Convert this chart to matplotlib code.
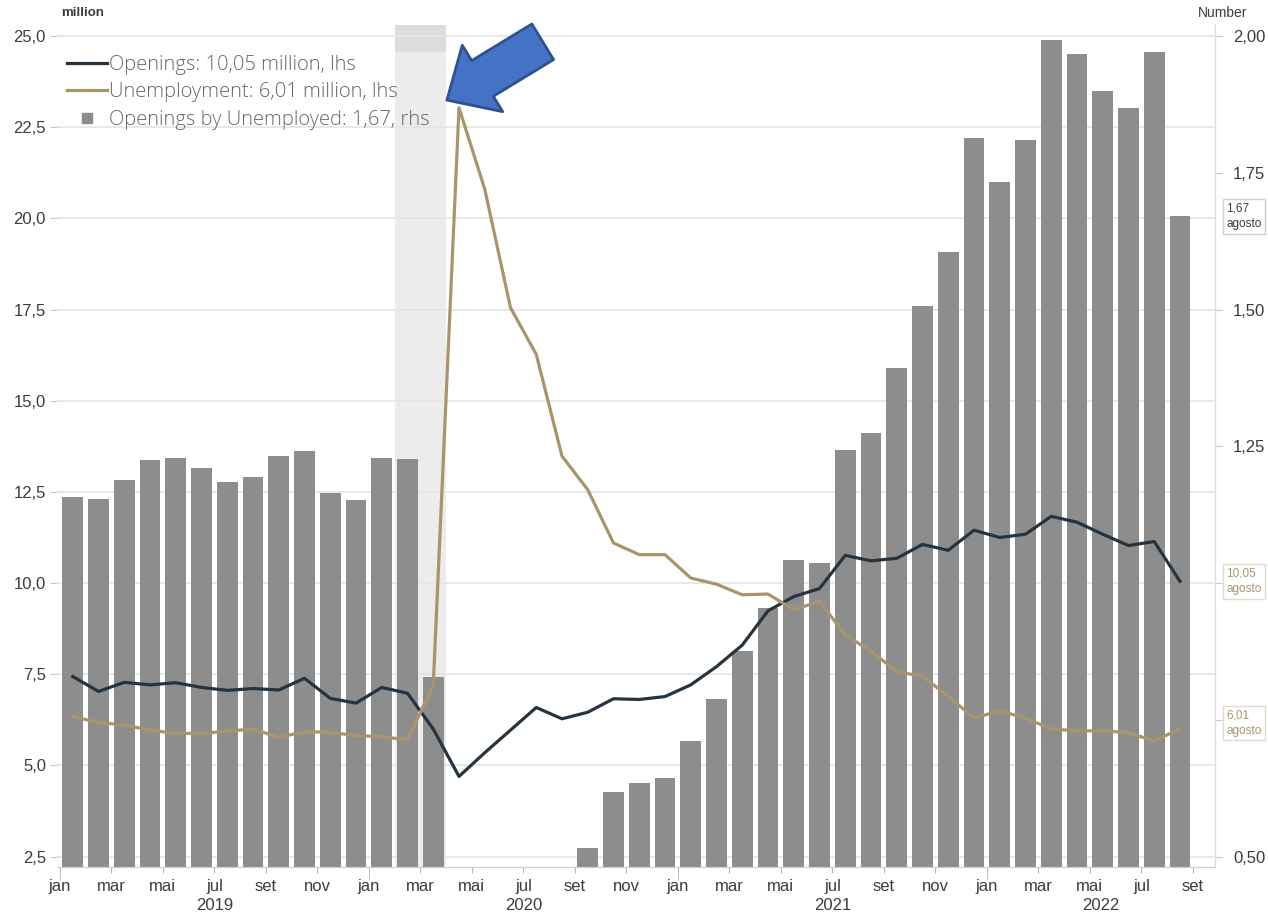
import numpy as np
import pandas as pd
import matplotlib
matplotlib.use('Agg')
import matplotlib.pyplot as plt
import matplotlib.transforms as mtransforms
from matplotlib.lines import Line2D

plt.rcParams['font.family'] = ['Liberation Sans Narrow', 'Liberation Sans', 'DejaVu Sans']

# dados mensais jan/2019 - ago/2022
months = pd.period_range('2019-01', '2022-08', freq='M')
month_names = ['jan', 'fev', 'mar', 'abr', 'mai', 'jun', 'jul', 'ago', 'set', 'out', 'nov', 'dez']

# vagas abertas (milhões, eixo esquerdo)
openings = [7.44, 7.03, 7.28, 7.21, 7.27, 7.14, 7.06, 7.11, 7.07, 7.39, 6.84, 6.71,
            7.14, 6.98, 6.00, 4.70, 5.35, 5.97, 6.59, 6.28, 6.46, 6.83, 6.81, 6.89,
            7.21, 7.71, 8.30, 9.24, 9.63, 9.85, 10.76, 10.61, 10.68, 11.06, 10.90, 11.45,
            11.25, 11.34, 11.83, 11.67, 11.34, 11.03, 11.14, 10.05]

# desempregados (milhões, eixo esquerdo)
unemployment = [6.34, 6.18, 6.11, 5.97, 5.88, 5.88, 5.94, 6.00, 5.77, 5.93, 5.91, 5.82,
                5.79, 5.70, 7.20, 23.03, 20.80, 17.55, 16.27, 13.48, 12.56, 11.10, 10.78, 10.78,
                10.14, 9.97, 9.68, 9.70, 9.27, 9.50, 8.58, 8.13, 7.58, 7.44, 6.90, 6.30,
                6.50, 6.30, 6.00, 5.95, 5.95, 5.90, 5.67, 6.01]

# vagas por desempregado (eixo direito)
ratio = [1.157, 1.153, 1.188, 1.225, 1.229, 1.210, 1.184, 1.193, 1.232, 1.241, 1.164, 1.151,
         1.229, 1.226, 0.829, 0.204, 0.257, 0.340, 0.405, 0.466, 0.516, 0.619, 0.635, 0.643,
         0.711, 0.788, 0.876, 0.954, 1.043, 1.037, 1.244, 1.275, 1.393, 1.506, 1.606, 1.813,
         1.733, 1.810, 1.993, 1.967, 1.900, 1.868, 1.970, 1.670]

left_ticks = [2.5, 5.0, 7.5, 10.0, 12.5, 15.0, 17.5, 20.0, 22.5, 25.0]
right_ticks = [0.5, 0.75, 1.0, 1.25, 1.5, 1.75, 2.0]
right_hidden = [0.75, 1.0]
recession = ['2020-02', '2020-03']

NAVY = '#263440'
TAN = '#a8956b'
BAR = '#8d8d8e'
GRID = '#e6e6e6'
TXT = '#3c3c3c'

x = np.arange(len(months))
month_idx = {str(m): i for i, m in enumerate(months)}

fig = plt.figure(figsize=(12.68, 9.15), dpi=100)
ax = fig.add_axes([0.045, 0.0528, 0.9132, 0.9199])
ax2 = ax.twinx()
ax.set_zorder(2)
ax2.set_zorder(1)
ax.patch.set_visible(False)

ax.set_xlim(-0.61, 44.36)
ax.set_ylim(2.226, 25.3)
ax2.set_ylim(0.4817, 2.02)

# recessão
r0 = month_idx[recession[0]] - 0.5
r1 = month_idx[recession[1]] + 0.5
ax2.axvspan(r0, r1, color='#ececec', zorder=0, lw=0)
ax2.axvspan(r0, r1, ymin=0.968, ymax=1.0, color='#dcdcdc', zorder=0.1, lw=0)

# grade horizontal do eixo esquerdo, desenhada atras das barras
blend = mtransforms.blended_transform_factory(ax2.transAxes, ax.transData)
for v in left_ticks:
    ax2.plot([0, 1], [v, v], transform=blend, color=GRID, lw=1.3, zorder=0.5)

ax2.bar(x, ratio, width=0.80, color=BAR, zorder=2)

l1, = ax.plot(x, openings, color=NAVY, lw=2.3, solid_joinstyle='round')
l2, = ax.plot(x, unemployment, color=TAN, lw=2.3, solid_joinstyle='round')

# eixos
for a in (ax, ax2):
    for s in ('top', 'left'):
        a.spines[s].set_visible(False)
    a.spines['right'].set_color('#dadada')
    a.spines['bottom'].set_color('#d0d0d0')

ax.set_yticks(left_ticks)
ax.set_yticklabels([('%.1f' % v).replace('.', ',') for v in left_ticks])
ax.tick_params(axis='y', length=5, color='#c8c8c8', labelsize=12, labelcolor=TXT, pad=3)

ax2.set_yticks(right_ticks)
ax2.set_yticklabels(['' if v in right_hidden else ('%.2f' % v).replace('.', ',')
                     for v in right_ticks])
ax2.tick_params(axis='y', length=5, color='#c8c8c8', labelsize=12, labelcolor=TXT, pad=8)

tick_pos = [i - 0.5 for i in range(0, len(months) + 1, 2)]
tick_lab = [month_names[i % 12] for i in range(0, len(months) + 1, 2)]
ax.set_xticks(tick_pos)
ax.set_xticklabels(tick_lab)
ax.set_xticks([i - 0.5 for i in range(0, len(months) + 1, 12)], minor=True)
ax.xaxis.remove_overlapping_locs = False
ax.tick_params(axis='x', which='major', length=4, color='#b8b8b8', labelsize=12,
               labelcolor=TXT, pad=5)
ax.tick_params(axis='x', which='minor', length=9, color='#b8b8b8')

# anos centralizados no trecho visivel
xmin, xmax = ax.get_xlim()
for yr in sorted(set(m.year for m in months)):
    idx = [i for i, m in enumerate(months) if m.year == yr]
    a0 = max(idx[0] - 0.5, xmin)
    a1 = min(idx[0] + 11.5, xmax)
    ax.text((a0 + a1) / 2, -0.046, str(yr), transform=ax.get_xaxis_transform(),
            ha='center', va='center', fontsize=12, color=TXT)

fig.text(0.048, 0.986, 'million', fontsize=9.5, color=TXT, weight='bold', va='center')
fig.text(0.984, 0.986, 'Number', fontsize=10, color=TXT, ha='right', va='center')

# legenda
bar_handle = Line2D([], [], marker='s', ls='none', color=BAR, markersize=7)
ax.legend([l1, l2, bar_handle],
          ['Openings: 10,05 million, lhs', 'Unemployment: 6,01 million, lhs',
           'Openings by Unemployed: 1,67, rhs'],
          loc='upper left', bbox_to_anchor=(0.0, 0.976), frameon=False,
          prop={'family': ['Open Sans', 'DejaVu Sans'], 'size': 14.5, 'weight': 'light'},
          labelcolor='#666666',
          handlelength=2.0, handletextpad=0.1, labelspacing=0.36, borderpad=0)

# marcadores do ultimo valor
last = len(months) - 1
box_kw = dict(boxstyle='square,pad=0.3', fc='white')
call_kw = dict(xycoords=('axes fraction', 'data'), textcoords='offset points',
               va='center', ha='left', fontsize=8.5, annotation_clip=False,
               linespacing=1.4)
ax2.annotate('%s\nagosto' % ('%.2f' % ratio[last]).replace('.', ','),
             xy=(1, ratio[last]), xytext=(8, 0), color=TXT,
             bbox=dict(box_kw, ec='#cfcfcf'), **call_kw)
ax.annotate('%s\nagosto' % ('%.2f' % openings[last]).replace('.', ','),
            xy=(1, openings[last]), xytext=(8, 0), color=TAN,
            bbox=dict(box_kw, ec='#e4dccb'), **call_kw)
ax.annotate('%s\nagosto' % ('%.2f' % unemployment[last]).replace('.', ','),
            xy=(1, unemployment[last]), xytext=(8, 4), color=TAN,
            bbox=dict(box_kw, ec='#e4dccb'), **call_kw)

# seta azul apontando o pico do desemprego
peak = int(np.argmax(unemployment))
ax.annotate('', xy=(peak - 0.47, unemployment[peak] + 0.21),
            xytext=(69, 42), textcoords='offset points',
            arrowprops=dict(arrowstyle='simple,head_length=3.0,head_width=5.6,tail_width=3.0',
                            fc='#4472c4', ec='#2f528f', lw=2, shrinkA=0, shrinkB=0),
            annotation_clip=False)

fig.savefig('out.png', dpi=100)
